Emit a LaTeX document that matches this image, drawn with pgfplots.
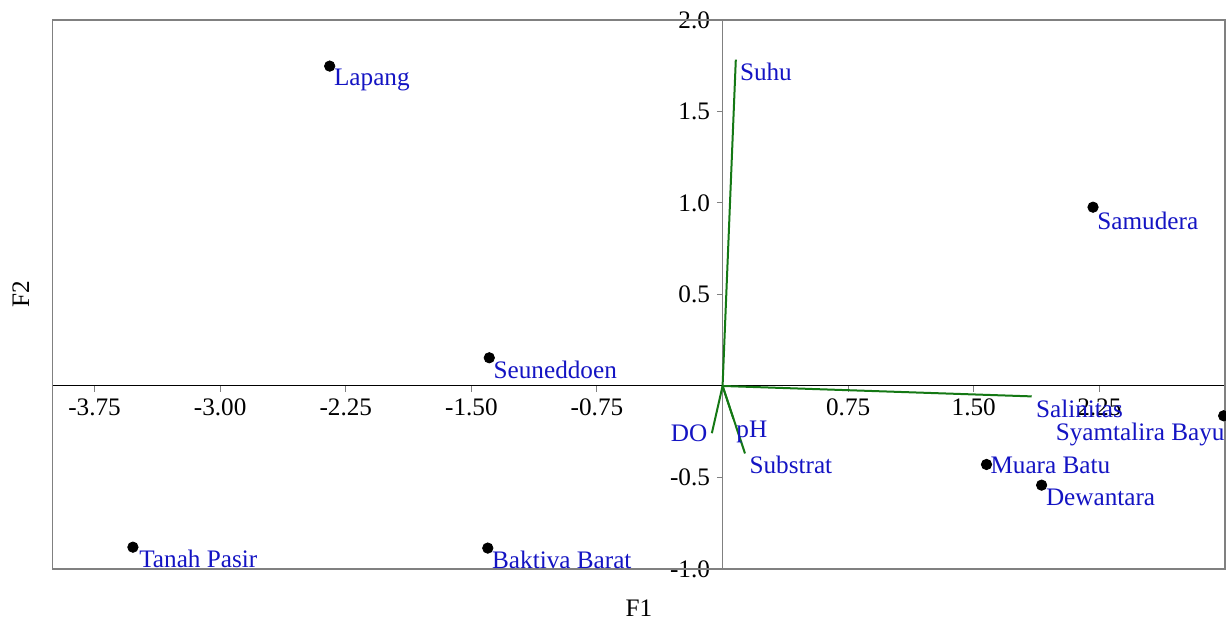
\documentclass[border=0pt]{standalone}
\usepackage{fontspec}
\setmainfont{Liberation Serif}
\usepackage{pgfplots}
\pgfplotsset{compat=1.18}
\definecolor{lblue}{RGB}{20,20,195}
\definecolor{vgreen}{RGB}{20,120,20}
\newcommand\myfont{\fontsize{12.6}{15}\selectfont}
\pgfplotsset{
  site/.style n args={4}{only marks, mark=*, mark size=2.6pt, black,
    nodes near coords={#1},
    every node near coord/.append style={anchor=#2, xshift=#3, yshift=#4, text=lblue, inner sep=0pt, font=\myfont}},
  vec/.style={vgreen, line width=1pt},
}
\tikzset{vlab/.style={pos=1, text=lblue, inner sep=0pt, font=\myfont}}

\begin{document}
\begin{tikzpicture}[font=\myfont]
\begin{axis}[
  scale only axis, width=586.2pt, height=274.5pt,
  xmin=-4, xmax=3, ymin=-1, ymax=2,
  axis lines=middle,
  x axis line style={-, black, line width=0.5pt},
  y axis line style={-, gray, line width=0.6pt},
  xtick={-3.75,-3,-2.25,-1.5,-0.75,0.75,1.5,2.25},
  ytick={-1,-0.5,0.5,1,1.5,2},
  tick align=outside,
  major tick length=2.8pt,
  every tick/.style={gray, line width=0.5pt},
  /pgf/number format/assume math mode=true,
  xticklabel style={/pgf/number format/fixed, /pgf/number format/fixed zerofill, /pgf/number format/precision=2},
  yticklabel style={/pgf/number format/fixed, /pgf/number format/fixed zerofill, /pgf/number format/precision=1},
  tick label style={font=\myfont},
  clip=false,
]
\draw[gray, line width=0.6pt] (rel axis cs:0,0) rectangle (rel axis cs:1,1);
\node[anchor=base] at (rel axis cs:0.5,0) [yshift=-24pt] {F1};
\path (rel axis cs:0,0.5) ++(-15.9pt,0pt) node[rotate=90, anchor=center] {F2};

% variable vectors
\addplot[vec] coordinates {(0,0) (0.079,1.783)}
  node[vlab, anchor=north west, xshift=1.6pt, yshift=-1.2pt] {Suhu};
\addplot[vec] coordinates {(0,0) (1.846,-0.057)}
  node[vlab, anchor=north west, xshift=1.7pt, yshift=-1.3pt] {Salinitas};
\addplot[vec] coordinates {(0,0) (-0.064,-0.258)}
  node[vlab, anchor=east, xshift=-1.8pt, yshift=-0.3pt] {DO};
\addplot[vec] coordinates {(0,0) (0.134,-0.369)}
  node[vlab, anchor=north west, xshift=1.8pt, yshift=-0.6pt] {Substrat};
\addplot[vec] coordinates {(0,0) (0.065,-0.18)}
  node[vlab, anchor=north west, xshift=1pt, yshift=-0.6pt] {pH};

% sites
\addplot[site={Lapang}{north west}{2pt}{-1.2pt}] coordinates {(-2.346,1.748)};
\addplot[site={Seuneddoen}{north west}{2pt}{-1.4pt}] coordinates {(-1.393,0.154)};
\addplot[site={Tanah Pasir}{north west}{3pt}{-1.2pt}] coordinates {(-3.521,-0.881)};
\addplot[site={Baktiva Barat}{north west}{2pt}{-1.4pt}] coordinates {(-1.402,-0.886)};
\addplot[site={Samudera}{north west}{2pt}{-2.2pt}] coordinates {(2.212,0.977)};
\addplot[site={Muara Batu}{west}{1.8pt}{-0.4pt}] coordinates {(1.576,-0.429)};
\addplot[site={Dewantara}{north west}{2pt}{-1.6pt}] coordinates {(1.905,-0.542)};
\addplot[site={Syamtalira Bayu}{north east}{0.6pt}{-3.6pt}] coordinates {(2.992,-0.163)};
\end{axis}
\pgfresetboundingbox
\path[use as bounding box] (-26.35pt,-26pt) rectangle (586.7pt,284.5pt);
\end{tikzpicture}
\end{document}
